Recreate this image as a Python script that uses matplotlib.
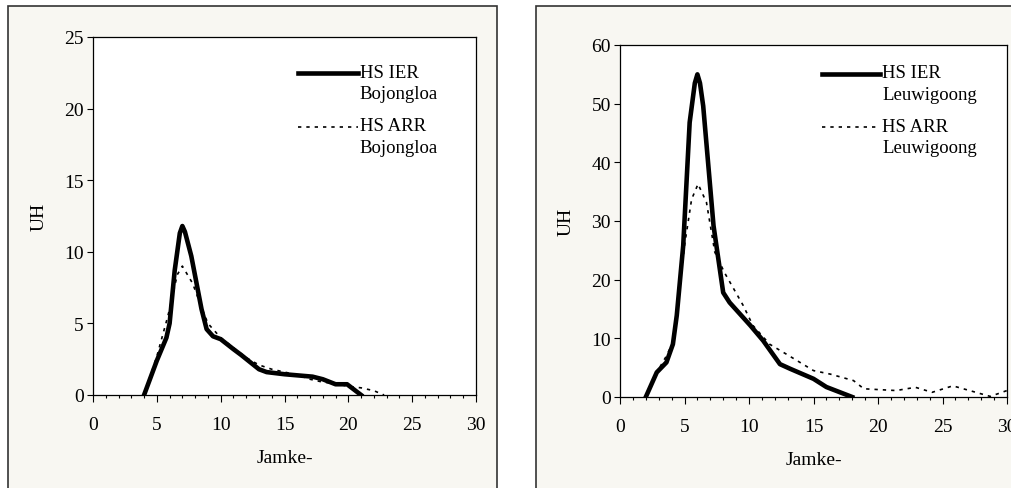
import matplotlib
matplotlib.use("Agg")
import matplotlib.pyplot as plt
from matplotlib.patches import Rectangle
from matplotlib.ticker import MultipleLocator

plt.rcParams['font.family'] = ['Liberation Serif', 'DejaVu Serif']

# Bojongloa
boj_ier_x = [4, 5, 5.75, 6, 6.4, 6.8, 7, 7.2, 7.7, 8.5, 8.9, 9.4, 10, 11, 11.6, 13, 13.6, 15, 17.2, 18, 19, 19.9, 21]
boj_ier_y = [0, 2.4, 4, 5, 8.7, 11.3, 11.8, 11.4, 9.7, 6.0, 4.6, 4.1, 3.9, 3.2, 2.8, 1.8, 1.6, 1.45, 1.28, 1.1, 0.75, 0.75, 0]
boj_arr_x = [4, 5, 5.8, 6, 6.6, 7, 7.8, 8.6, 9, 10, 11, 12, 13, 14, 15, 16, 17, 18, 19, 20, 21, 22, 22.8]
boj_arr_y = [0, 2.7, 5.3, 6.0, 8.4, 9.0, 7.8, 5.9, 5.0, 4.0, 3.3, 2.6, 2.1, 1.8, 1.6, 1.4, 1.1, 0.9, 0.8, 0.6, 0.5, 0.3, 0]

# Leuwigoong
leu_ier_x = [2, 2.85, 3.6, 4.1, 4.4, 4.9, 5.4, 5.8, 6, 6.2, 6.45, 6.85, 7.25, 8, 8.5, 10.1, 11.1, 12.4, 13.2, 15, 16, 18]
leu_ier_y = [0, 4.2, 5.9, 9.0, 13.9, 25.8, 46.8, 53.5, 55.0, 53.5, 49.6, 39.4, 29.2, 17.8, 16.1, 12.2, 9.6, 5.6, 4.8, 3.1, 1.7, 0]
leu_arr_x = [2, 2.85, 3.6, 4.1, 4.5, 5.0, 5.55, 6.05, 6.7, 7.35, 8.1, 9.55, 10.3, 11.6, 12.9, 15.0,
             16.3, 18.1, 18.9, 21.4, 22.9, 24.2, 25.8, 27.1, 28.7, 30]
leu_arr_y = [0, 4.2, 7.0, 9.3, 16.1, 25.8, 33.7, 36.3, 33.2, 24.7, 21.2, 15.6, 12.2, 9.0, 7.3, 4.5,
             3.9, 2.8, 1.4, 1.1, 1.65, 0.8, 1.9, 1.1, 0.1, 1.1]

panels = [
    dict(name="Bojongloa", ier=(boj_ier_x, boj_ier_y), arr=(boj_arr_x, boj_arr_y),
         ymax=25, ystep=5, pos=[93 / 1011, 93 / 489, 383 / 1011, 358 / 489],
         anchor=(0.535, 0.925), hlen=3.2),
    dict(name="Leuwigoong", ier=(leu_ier_x, leu_ier_y), arr=(leu_arr_x, leu_arr_y),
         ymax=60, ystep=10, pos=[620 / 1011, 91 / 489, 387 / 1011, 352 / 489],
         anchor=(0.522, 0.946), hlen=3.1),
]

bg = '#f8f7f2'
fig = plt.figure(figsize=(10.11, 4.89), dpi=100)
fig.patch.set_facecolor('white')

# panel frames
for x0, w in [(8 / 1011, 489 / 1011), (536 / 1011, 0.6)]:
    fig.patches.append(Rectangle((x0, -0.1), w, 1.1 - 7 / 489, transform=fig.transFigure,
                                 facecolor=bg, edgecolor='#333333', linewidth=1.2, zorder=-5))

legends = []
for p in panels:
    ax = fig.add_axes(p['pos'])
    ax.set_facecolor('white')
    ax.plot(*p['ier'], color='black', linewidth=3.3, solid_joinstyle='round',
            label="HS IER\n" + p['name'])
    ax.plot(*p['arr'], color='black', linewidth=1.2, linestyle=(0, (2.0, 3.0)),
            label="HS ARR\n" + p['name'])
    ax.set_xlim(0, 30)
    ax.set_ylim(0, p['ymax'])
    ax.xaxis.set_major_locator(MultipleLocator(5))
    ax.xaxis.set_minor_locator(MultipleLocator(1))
    ax.yaxis.set_major_locator(MultipleLocator(p['ystep']))
    ax.tick_params(axis='x', which='major', direction='out', length=5, width=0.8, pad=10, labelsize=14)
    ax.tick_params(axis='x', which='minor', direction='out', length=2.5, width=0.8)
    ax.tick_params(axis='y', which='major', direction='out', length=4.5, width=0.8, pad=2, labelsize=14)
    for s in ax.spines.values():
        s.set_linewidth(0.9)
    ax.set_xlabel("Jamke-", fontsize=14, labelpad=12)
    ax.set_ylabel("UH", fontsize=14, labelpad=12)
    leg = ax.legend(loc='upper left', bbox_to_anchor=p['anchor'], frameon=False,
                    fontsize=13.5, handlelength=p['hlen'], handletextpad=0.1, labelspacing=0.8,
                    borderaxespad=0, borderpad=0)
    for t in leg.get_texts():
        t.set_linespacing(1.35)
    legends.append(leg)

# move legend handles up to the first line of each two-line label
fig.canvas.draw()
r = fig.canvas.get_renderer()
for leg in legends:
    for line, txt in zip(leg.get_lines(), leg.get_texts()):
        tb = txt.get_window_extent(r)
        lb = line.get_window_extent(r)
        target = tb.y1 - tb.height / 4
        delta = (target - (lb.y0 + lb.y1) / 2) * 72 / fig.dpi
        line.set_ydata([y + delta for y in line.get_ydata()])

fig.savefig("out.png", dpi=100, facecolor=fig.get_facecolor())
